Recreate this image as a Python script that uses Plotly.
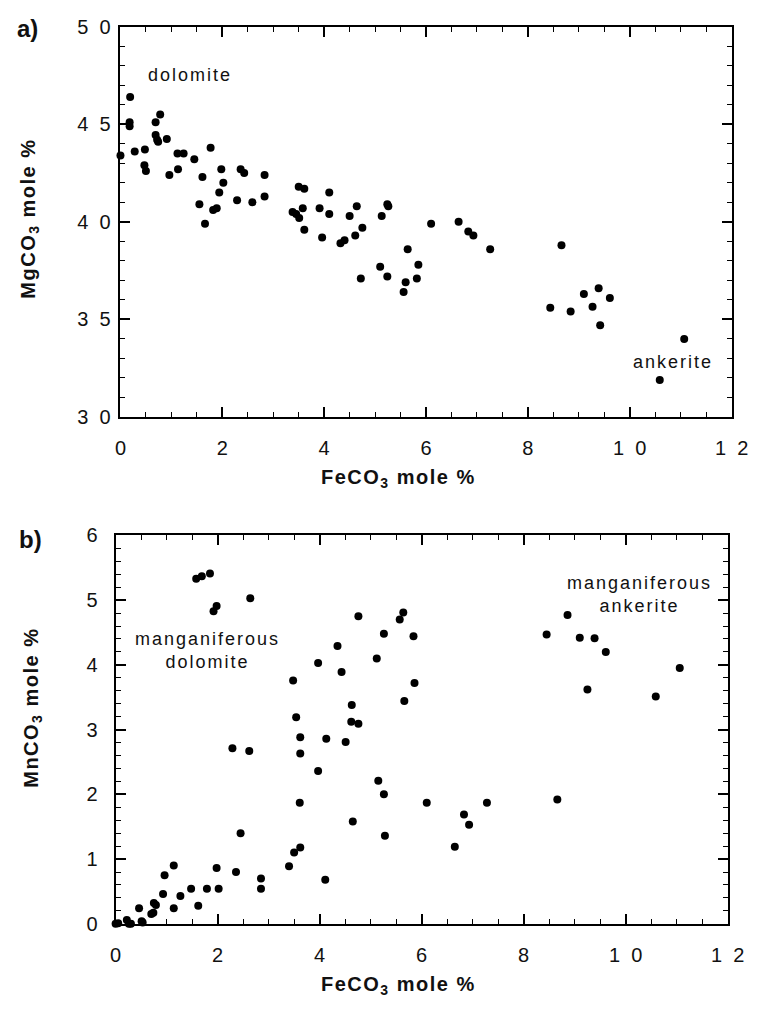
import plotly.graph_objects as go

# ---- Panel a) data ----
fe_a = [0.0, 0.19, 0.18, 0.18, 0.28, 0.48, 0.47, 0.50, 0.69, 0.78, 0.69, 0.72, 0.74, 0.91, 0.96,
        1.12, 1.24, 1.13, 1.45, 1.55, 1.61, 1.66, 1.77, 1.82, 1.89, 1.94, 1.98, 2.02, 2.29, 2.36,
        2.43, 2.59, 2.83, 2.83, 3.38, 3.45, 3.51, 3.50, 3.61, 3.58, 3.61, 3.91, 3.96, 4.10, 4.10,
        4.32, 4.40, 4.50, 4.61, 4.64, 4.75, 4.72, 5.10, 5.13, 5.24, 5.26, 5.24, 5.56, 5.60, 5.64,
        5.82, 5.85, 6.10, 6.64, 6.83, 6.93, 7.26, 8.44, 8.66, 8.84, 9.10, 9.27, 9.39, 9.42, 9.61,
        10.59, 11.07]
mg_a = [43.4, 46.4, 45.1, 44.9, 43.6, 43.7, 42.9, 42.6, 45.1, 45.5, 44.45, 44.2, 44.1, 44.25, 42.4,
        43.5, 43.5, 42.7, 43.2, 40.9, 42.3, 39.9, 43.8, 40.6, 40.7, 41.5, 42.7, 42.0, 41.1, 42.7,
        42.5, 41.0, 42.4, 41.3, 40.5, 40.4, 40.2, 41.8, 41.7, 40.7, 39.6, 40.7, 39.2, 41.5, 40.4,
        38.9, 39.05, 40.3, 39.3, 40.8, 39.7, 37.1, 37.7, 40.3, 40.9, 40.8, 37.2, 36.4, 36.9, 38.6,
        37.1, 37.8, 39.9, 40.0, 39.5, 39.3, 38.6, 35.6, 38.8, 35.4, 36.3, 35.65, 36.6, 34.7, 36.1,
        31.9, 34.0]

# ---- Panel b) data ----
fe_b = [0.0, 0.05, 0.22, 0.26, 0.30, 0.46, 0.51, 0.53, 0.70, 0.74, 0.75, 0.79, 0.93, 0.96, 1.14,
        1.14, 1.27, 1.48, 1.62, 1.79, 1.98, 2.02, 2.36, 2.45, 2.85, 2.85, 2.29, 2.62, 1.58, 1.69,
        1.85, 1.92, 1.98, 2.64, 3.40, 3.50, 3.62, 3.61, 3.62, 3.62, 3.54, 3.48, 3.97, 3.97, 4.11,
        4.13, 4.35, 4.43, 4.51, 4.63, 4.62, 4.76, 4.76, 4.65, 5.12, 5.15, 5.26, 5.28, 5.26, 5.57,
        5.64, 5.66, 5.84, 5.86, 6.10, 6.65, 6.83, 6.93, 7.28, 8.45, 8.66, 8.86, 9.10, 9.25, 9.39,
        9.61, 10.59, 11.06]
mn_b = [0.0, 0.01, 0.06, 0.0, 0.0, 0.24, 0.04, 0.02, 0.15, 0.17, 0.32, 0.29, 0.46, 0.75, 0.90,
        0.24, 0.43, 0.54, 0.28, 0.54, 0.86, 0.54, 0.80, 1.40, 0.70, 0.54, 2.71, 2.67, 5.33, 5.37,
        5.41, 4.83, 4.91, 5.03, 0.89, 1.10, 1.18, 1.87, 2.63, 2.88, 3.19, 3.76, 2.36, 4.03, 0.68,
        2.86, 4.29, 3.89, 2.81, 3.38, 3.12, 3.09, 4.75, 1.58, 4.10, 2.21, 2.00, 1.36, 4.48, 4.70,
        4.81, 3.44, 4.44, 3.72, 1.87, 1.19, 1.69, 1.53, 1.87, 4.47, 1.92, 4.77, 4.42, 3.62, 4.41,
        4.20, 3.51, 3.95]

x_tickvals = [0, 2, 4, 6, 8, 10, 12]
x_ticktext = ["0", "2", "4", "6", "8", "1\u00a0\u00a00", "1\u00a0\u00a02"]
ya_tickvals = [30, 35, 40, 45, 50]
ya_ticktext = ["3\u00a0\u00a00", "3\u00a0\u00a05", "4\u00a0\u00a00", "4\u00a0\u00a05", "5\u00a0\u00a00"]
yb_tickvals = [0, 1, 2, 3, 4, 5, 6]
yb_ticktext = ["0", "1", "2", "3", "4", "5", "6"]

W, H = 767, 1016
FONT = "Liberation Sans, Arial, Helvetica, sans-serif"

def px_x(p):
    return p / W

def px_y(p):
    return 1 - p / H

def spaced(t, sp=1.5):
    return '<span style="letter-spacing:%spx">%s</span>' % (sp, t)

fig = go.Figure()
mk = dict(color="black", size=8)
fig.add_trace(go.Scatter(x=fe_a, y=mg_a, mode="markers", marker=mk, cliponaxis=False,
                         xaxis="x", yaxis="y", showlegend=False))
fig.add_trace(go.Scatter(x=fe_b, y=mn_b, mode="markers", marker=mk, cliponaxis=False,
                         xaxis="x2", yaxis="y2", showlegend=False))

axis_common = dict(showline=True, linecolor="black", linewidth=1.8, mirror="ticks",
                   ticks="inside", ticklen=10, tickwidth=1.5, tickcolor="black",
                   showgrid=False, zeroline=False,
                   tickfont=dict(family=FONT, size=20, color="#111"))

def minor(d):
    return dict(ticks="inside", ticklen=5, dtick=d, tickwidth=1.2, tickcolor="black", showgrid=False)

fig.update_layout(
    width=W, height=H, margin=dict(l=0, r=0, t=0, b=0),
    paper_bgcolor="white", plot_bgcolor="white",
    xaxis=dict(domain=[px_x(118), px_x(748)], range=[0, 12], anchor="y",
               tickvals=x_tickvals, ticktext=x_ticktext, ticklabelstandoff=12,
               minor=minor(0.5), **axis_common),
    yaxis=dict(domain=[px_y(415), px_y(16)], range=[30, 50], anchor="x",
               tickvals=ya_tickvals, ticktext=ya_ticktext, ticklabelstandoff=4,
               minor=minor(1), **axis_common),
    xaxis2=dict(domain=[px_x(113), px_x(744)], range=[0, 12], anchor="y2",
                tickvals=x_tickvals, ticktext=x_ticktext, ticklabelstandoff=12,
                minor=minor(0.5), **axis_common),
    yaxis2=dict(domain=[px_y(933), px_y(536)], range=[0, 6], anchor="x2",
                tickvals=yb_tickvals, ticktext=yb_ticktext, ticklabelstandoff=12,
                minor=minor(0.2), **axis_common),
)

title_font = dict(family=FONT, size=20, color="#111")
label_font = dict(family=FONT, size=18, color="#111")
anns = [
    dict(x=px_x(24), y=px_y(212), text=spaced("<b>MgCO<sub>3</sub> mole %</b>", 1.5), textangle=-90,
         font=title_font),
    dict(x=px_x(405), y=px_y(478), text=spaced("<b>FeCO<sub>3</sub> mole %</b>", 1.5), font=title_font),
    dict(x=px_x(27), y=px_y(712), text=spaced("<b>MnCO<sub>3</sub> mole %</b>", 1.5), textangle=-90,
         font=title_font),
    dict(x=px_x(405), y=px_y(996), text=spaced("<b>FeCO<sub>3</sub> mole %</b>", 1.5), font=title_font),
    dict(x=px_x(22), y=px_y(18), text="<b>a)</b>", font=dict(family=FONT, size=24, color="#111")),
    dict(x=px_x(25), y=px_y(540), text="<b>b)</b>", font=dict(family=FONT, size=24, color="#111")),
]
for a in anns:
    fig.add_annotation(xref="paper", yref="paper", showarrow=False,
                       xanchor="center", yanchor="middle", **a)

data_anns = [
    dict(x=1.37, y=47.5, xref="x", yref="y", text=spaced("dolomite", 2)),
    dict(x=10.85, y=32.8, xref="x", yref="y", text=spaced("ankerite", 2)),
    dict(x=1.81, y=4.22, xref="x2", yref="y2",
         text=spaced("manganiferous", 2) + "<br>" + spaced("dolomite", 2)),
    dict(x=10.27, y=5.08, xref="x2", yref="y2",
         text=spaced("manganiferous", 2) + "<br>" + spaced("ankerite", 2)),
]
for a in data_anns:
    fig.add_annotation(showarrow=False, xanchor="center", yanchor="middle", font=label_font, **a)

fig.write_html("out.html")
